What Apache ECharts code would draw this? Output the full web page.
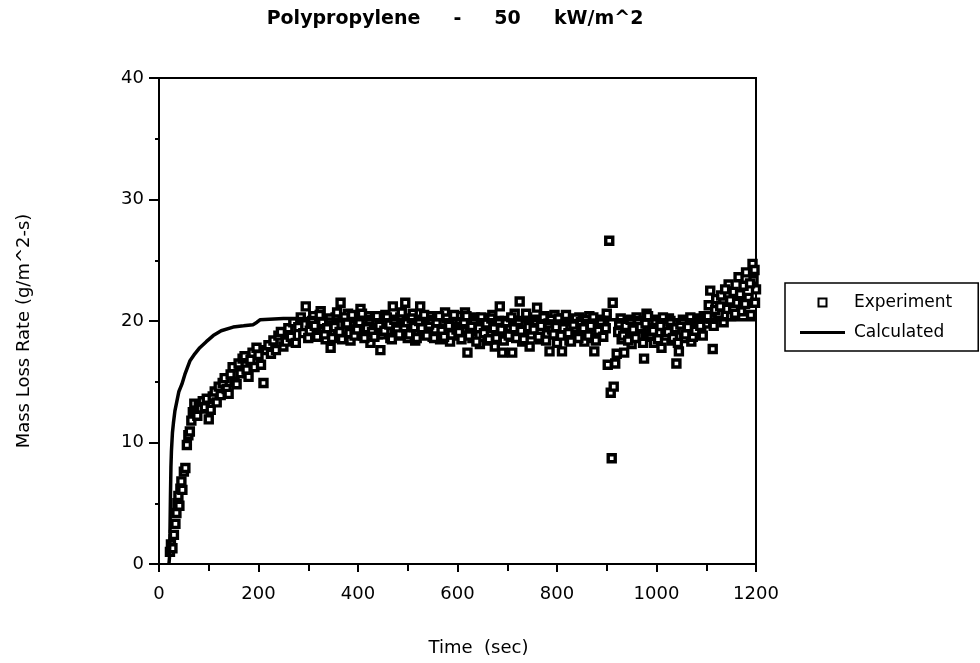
<!DOCTYPE html>
<html><head><meta charset="utf-8">
<script src="https://cdn.jsdelivr.net/npm/echarts@6/dist/echarts.min.js"></script>
<style>html,body{margin:0;padding:0;background:#fff}#c{width:980px;height:663px}</style>
</head><body><div id="c"></div>
<script>
// ---- Data ----
const titleText = 'Polypropylene     -     50     kW/m^2';
const xTickLabels = ['0','200','400','600','800','1000','1200'];
const yTickLabels = ['0','10','20','30','40'];

const expTime = [
 22,24,27,30,33,35,37,39,41,43,45,47,50,53,56,59,62,65,68,71,74,77,80,84,88,92,96,100,104,108,112,116,120,124,128,132,136,140,144,148,152,156,160,164,168,172,176,180,184,188,192,196,200,205,210,215,220,225,230,235,240,245,250,255,260,265,270,275,280,285,290,295,300,
 305,310,315,320,325,330,335,340,345,350,
 355,360,365,370,375,380,385,390,395,400,
 405,410,415,420,425,430,435,440,445,450,
 455,460,465,470,475,480,485,490,495,500,
 505,510,515,520,525,530,535,540,545,550,
 555,560,565,570,575,580,585,590,595,600,
 605,610,615,620,625,630,635,640,645,650,
 655,660,665,670,675,680,685,690,695,700,
 705,710,715,720,725,730,735,740,745,750,
 755,760,765,770,775,780,785,790,795,800,
 805,810,815,820,825,830,835,840,845,850,
 855,860,865,870,875,880,885,890,895,900,
 902,905,908,910,912,914,917,
 920,925,930,935,940,945,950,955,960,965,970,
 975,980,985,990,995,1000,1005,1010,1015,1020,
 1025,1030,1035,1040,1045,1050,1055,1060,1065,1070,
 1075,1080,1085,1090,1095,1100,
 1105,1108,1110,1113,1115,1120,1125,1130,1135,1140,1145,1150,1155,1160,1165,1170,1175,1180,1185,1190,1193,1195,1198,1200,
 303,308,313,318,323,328,333,338,343,348,
 353,358,363,368,373,378,383,388,393,398,
 403,408,413,418,423,428,433,438,443,448,
 453,458,463,468,473,478,483,488,493,498,
 503,508,513,518,523,528,533,538,543,548,
 553,558,563,568,573,578,583,588,593,598,
 603,608,613,618,623,628,633,638,643,648,
 653,658,663,668,673,678,683,688,693,698,
 703,708,713,718,723,728,733,738,743,748,
 753,758,763,768,773,778,783,788,793,798,
 803,808,813,818,823,828,833,838,843,848,
 853,858,863,868,873,878,883,888,893,898,
 923,928,933,938,943,948,
 953,958,963,968,973,978,983,988,993,998,
 1003,1008,1013,1018,1023,1028,1033,1038,1043,1048,
 1053,1058,1063,1068,1073,1078,1083,1088,1093,1098,
 1103,1118,1128,1138,1148,1158,1168,1178,1188,1197
];
const expRate = [
 1.0,1.6,1.3,2.4,3.3,4.2,5.0,5.6,4.8,6.2,6.8,6.1,7.6,7.9,9.8,10.6,10.9,11.8,12.5,13.2,12.6,12.2,13.0,12.8,13.4,12.9,13.6,11.9,12.7,13.8,14.2,13.3,14.6,13.9,14.9,15.3,14.4,14.0,15.6,16.2,15.0,14.8,16.5,15.7,16.9,17.1,16.0,15.4,16.8,17.4,16.2,17.8,17.2,16.4,14.9,17.6,18.0,17.3,18.4,17.6,18.8,19.1,17.9,18.3,19.4,18.7,19.9,18.2,19.5,20.3,19.0,21.2,18.6,
 19.8,20.4,18.9,19.5,20.8,19.2,18.5,20.1,17.8,19.6,
 20.3,19.0,21.5,18.7,19.9,20.6,18.4,19.3,20.2,19.7,
 21.0,18.8,19.5,20.4,18.2,19.8,20.0,18.9,17.6,19.4,
 20.5,19.1,18.6,21.2,19.9,18.8,20.3,19.4,21.5,18.6,
 19.7,20.6,18.4,19.2,21.2,20.1,18.9,19.6,20.4,18.7,
 19.3,20.2,18.5,19.9,20.7,19.0,18.3,20.1,19.5,18.8,
 20.4,19.2,20.7,17.4,19.8,18.6,20.3,19.5,18.1,19.9,
 20.2,18.4,19.6,20.5,17.9,19.1,21.2,17.4,20.0,18.7,
 19.5,17.4,20.6,19.0,21.6,18.3,19.8,20.3,17.9,19.4,
 20.1,21.1,18.5,19.7,20.4,18.9,17.5,19.3,20.5,18.2,
 19.6,17.5,20.2,19.0,18.4,20.0,19.4,18.7,20.3,19.1,
 18.3,19.9,20.4,18.6,17.5,19.5,20.1,18.9,19.7,20.6,
 16.4,26.6,14.1,8.7,21.5,14.6,16.5,
 17.3,19.8,18.5,17.4,20.0,19.2,18.1,19.7,20.3,18.8,19.5,
 16.9,20.6,18.7,19.4,18.2,20.1,19.0,17.8,19.6,18.9,
 20.2,18.4,19.3,16.5,17.5,19.8,18.6,20.0,19.1,18.3,
 19.7,20.2,18.9,19.5,20.4,19.8,
 21.3,22.5,20.2,17.7,19.6,21.8,20.6,22.1,19.9,21.0,23.0,20.4,22.4,21.5,23.6,20.8,22.9,24.0,21.9,20.5,24.7,23.4,21.5,22.6,
 19.2,20.0,19.6,18.7,20.5,19.9,18.9,19.4,20.2,18.6,
 19.5,20.7,19.1,18.5,20.3,19.8,19.0,20.5,18.8,19.3,
 19.9,20.6,18.6,19.4,20.1,19.1,18.7,20.4,19.6,18.9,
 19.2,20.3,19.7,18.5,20.1,19.3,18.9,20.7,19.5,19.9,
 18.9,20.2,19.5,18.6,20.0,19.4,20.5,18.8,19.7,20.1,
 18.6,19.9,20.4,19.2,18.7,20.2,19.6,18.9,20.5,19.3,
 19.1,18.5,19.9,20.4,18.8,19.6,20.1,18.3,19.4,20.3,
 19.0,19.8,18.5,20.2,19.4,18.6,20.0,19.3,18.4,19.9,
 18.8,20.3,19.4,18.6,20.0,19.2,18.5,20.6,19.5,18.9,
 19.3,20.0,18.7,19.6,20.3,18.4,19.8,20.1,18.9,19.5,
 20.2,18.8,19.4,20.5,19.0,18.3,19.7,20.2,18.6,19.9,
 19.4,20.1,18.8,19.6,20.3,18.4,19.2,20.0,18.7,19.4,
 19.1,20.2,18.8,19.6,18.4,20.1,
 19.3,18.6,20.0,19.5,18.2,19.8,20.4,18.9,19.2,20.0,
 18.5,19.6,20.3,18.8,19.1,20.0,18.6,19.4,18.2,19.7,
 20.1,18.9,19.5,20.3,18.7,19.2,20.0,19.6,18.8,20.2,
 20.4,20.9,21.2,22.6,21.7,20.6,22.2,21.4,23.1,24.2
];

const calcTime = [20,21,22,23,24,25,27,29,32,36,40,46,52,62,72,82,95,109,125,149,170,189,197,203,250,300,400,500,600,700,800,900,1000,1100,1200];
const calcRate = [0,0.5,2.5,5.5,8,9.3,10.8,11.6,12.6,13.4,14.2,14.8,15.6,16.7,17.3,17.8,18.3,18.8,19.2,19.5,19.6,19.7,19.9,20.1,20.2,20.2,20.1,20.1,20.1,20.1,20.0,20.1,20.1,20.1,20.1];

// ---- Build chart ----
const expData = expTime.map((t, i) => [t, expRate[i]]);
const calcData = calcTime.map((t, i) => [t, calcRate[i]]);
const FONT = 'DejaVu Sans';

const chart = echarts.init(document.getElementById('c'), null, {renderer: 'canvas'});
chart.setOption({
  animation: false,
  backgroundColor: '#fff',
  graphic: [{
    type: 'text', x: 455, y: 10,
    style: {text: titleText, font: 'bold 19px "DejaVu Sans"', fill: '#000', textAlign: 'center'}
  }],
  grid: {left: 159, right: 224, top: 78, bottom: 99, show: true, borderColor: '#000', borderWidth: 2, backgroundColor: 'transparent'},
  legend: {
    orient: 'vertical', left: 785, top: 283,
    padding: [11, 26, 10, 15],
    borderColor: '#000', borderWidth: 1.5, borderRadius: 0,
    itemWidth: 45, itemHeight: 8, itemGap: 13,
    symbolKeepAspect: true,
    textStyle: {fontFamily: FONT, fontSize: 17, color: '#000', padding: [0, 0, 0, 4]},
    data: [
      {name: 'Experiment', icon: 'path://M0,0H10V10H0Z'},
      {name: 'Calculated', icon: 'path://M0,0H45V3H0Z', itemStyle: {color: '#000'}}
    ]
  },
  xAxis: {
    type: 'value', min: 0, max: 1200, interval: 200,
    axisLine: {show: true, lineStyle: {color: '#000', width: 2}},
    axisTick: {show: true, length: 8, lineStyle: {color: '#000', width: 2}},
    minorTick: {show: true, splitNumber: 2, length: 7, lineStyle: {color: '#000', width: 2}},
    splitLine: {show: false}, minorSplitLine: {show: false},
    axisLabel: {fontFamily: FONT, fontSize: 18, color: '#000', margin: 21,
      formatter: (v) => xTickLabels[Math.round(v / 200)]},
    name: 'Time  (sec)', nameLocation: 'middle', nameGap: 75,
    nameTextStyle: {fontFamily: FONT, fontSize: 18, color: '#000', padding: [0, 0, 0, 42]}
  },
  yAxis: {
    type: 'value', min: 0, max: 40, interval: 10,
    axisLine: {show: true, lineStyle: {color: '#000', width: 2}},
    axisTick: {show: true, length: 10, lineStyle: {color: '#000', width: 2}},
    minorTick: {show: true, splitNumber: 2, length: 4, lineStyle: {color: '#000', width: 2}},
    splitLine: {show: false}, minorSplitLine: {show: false},
    axisLabel: {fontFamily: FONT, fontSize: 18, color: '#000', margin: 15,
      formatter: (v) => yTickLabels[Math.round(v / 10)]},
    name: 'Mass Loss Rate (g/m^2-s)', nameLocation: 'middle', nameGap: 126,
    nameTextStyle: {fontFamily: FONT, fontSize: 18, color: '#000', padding: [0, 20, 0, 0]}
  },
  series: [
    {
      name: 'Experiment', type: 'scatter', data: expData,
      symbol: 'rect', symbolSize: 7,
      itemStyle: {color: '#fff', borderColor: '#000', borderWidth: 3.4, opacity: 1},
      z: 2
    },
    {
      name: 'Calculated', type: 'line', data: calcData,
      symbol: 'none', showSymbol: false,
      lineStyle: {color: '#000', width: 3.5},
      itemStyle: {color: '#000'},
      z: 3
    }
  ]
});
</script>
</body></html>
